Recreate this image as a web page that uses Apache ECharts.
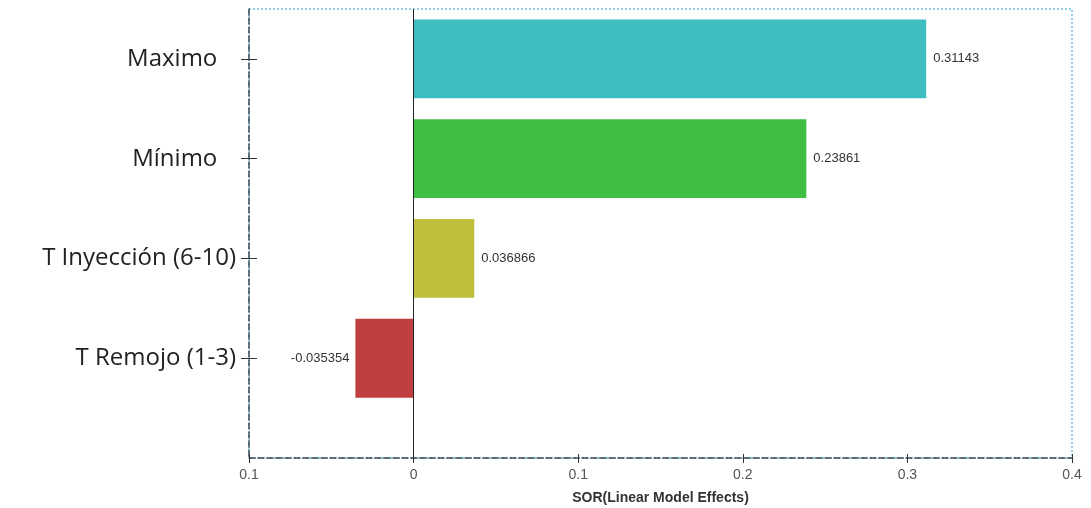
<!DOCTYPE html>
<html>
<head>
<meta charset="utf-8">
<script src="https://cdn.jsdelivr.net/npm/echarts@6/dist/echarts.min.js"></script>
<style>
  html, body { margin: 0; padding: 0; background: #fff; }
  #chart { width: 1091px; height: 508px; }
</style>
</head>
<body>
<div id="chart"></div>
<script>
// Factor names (top to bottom) and their linear model effects on SOR
const factors = ['Maximo   ', 'Mínimo   ', 'T Inyección (6-10)', 'T Remojo (1-3)'];
const effects = [0.31143, 0.23861, 0.036866, -0.035354];
const barColors = ['#3fbec2', '#3ebf41', '#bfbf3b', '#bf3e3e'];
const xTickLabels = ['0.1', '0', '0.1', '0.2', '0.3', '0.4'];
const axisTitle = 'SOR(Linear Model Effects)';

const rows = effects.map((v, i) => [v, i]);
const rowIndex = factors.map((_, i) => i);

const chart = echarts.init(document.getElementById('chart'));

const yBase = {
  type: 'value',
  inverse: true,
  min: -0.5,
  max: 4,
  splitLine: { show: false }
};

chart.setOption({
  animation: false,
  grid: {
    left: 249, right: 19, top: 9, bottom: 50,
    outerBoundsMode: 'none',
    containLabel: false,
    show: true,
    borderColor: '#8ccfe6',
    borderWidth: 2,
    borderType: 'dotted'
  },
  xAxis: [
    {
      type: 'value',
      min: -0.1, max: 0.4, interval: 0.1,
      name: axisTitle,
      nameLocation: 'middle',
      nameGap: 33,
      nameTextStyle: { fontFamily: 'Liberation Sans, Arial', fontSize: 14, fontWeight: 'bold', color: '#333' },
      axisLine: { show: true, onZero: false, lineStyle: { color: '#3d4a55', type: 'dashed', width: 1.5 } },
      axisTick: { show: true, length: 5, lineStyle: { color: '#333' } },
      axisLabel: {
        margin: 10,
        fontFamily: 'Liberation Sans, Arial', fontSize: 14, color: '#555',
        formatter: (v, i) => xTickLabels[i]
      },
      splitLine: { show: false }
    },
    {
      type: 'value', position: 'bottom',
      min: -0.1, max: 0.4, interval: 0.1,
      axisLine: { show: false, onZero: false },
      axisTick: { show: true, inside: true, length: 4, lineStyle: { color: '#333' } },
      axisLabel: { show: false },
      splitLine: { show: false }
    }
  ],
  yAxis: [
    Object.assign({}, yBase, {
      position: 'left',
      axisLine: { show: true, onZero: false, lineStyle: { color: '#3d4a55', type: 'dashed', width: 1.5 } },
      axisTick: { show: true, length: 8, customValues: rowIndex, lineStyle: { color: '#333' } },
      axisLabel: {
        margin: 13,
        customValues: rowIndex,
        fontFamily: 'Open Sans', fontSize: 24, color: '#222',
        formatter: v => factors[v]
      }
    }),
    Object.assign({}, yBase, {
      position: 'left',
      axisLine: { show: false, onZero: false },
      axisTick: { show: true, inside: true, length: 8, customValues: rowIndex, lineStyle: { color: '#333' } },
      axisLabel: { show: false }
    })
  ],
  series: [{
    type: 'custom',
    xAxisIndex: 0,
    yAxisIndex: 0,
    data: rows,
    encode: { x: 0, y: 1 },
    renderItem: (params, api) => {
      const v = api.value(0);
      const idx = api.value(1);
      const p0 = api.coord([0, idx]);
      const p1 = api.coord([v, idx]);
      const h = api.size([0, 0.79])[1];
      const x = Math.min(p0[0], p1[0]);
      const w = Math.abs(p1[0] - p0[0]);
      return {
        type: 'group',
        children: [
          {
            type: 'rect',
            shape: { x: x, y: p0[1] - h / 2, width: w, height: h },
            style: { fill: barColors[idx] }
          },
          {
            type: 'text',
            style: {
              text: String(v),
              x: v >= 0 ? p1[0] + 7 : p1[0] - 6,
              y: p0[1],
              align: v >= 0 ? 'left' : 'right',
              verticalAlign: 'middle',
              fill: '#333',
              font: '13px "Liberation Sans", Arial'
            }
          }
        ]
      };
    },
    markLine: {
      silent: true,
      symbol: 'none',
      label: { show: false },
      lineStyle: { color: '#222', type: 'solid', width: 1 },
      data: [{ xAxis: 0 }]
    }
  }]
});
</script>
</body>
</html>
